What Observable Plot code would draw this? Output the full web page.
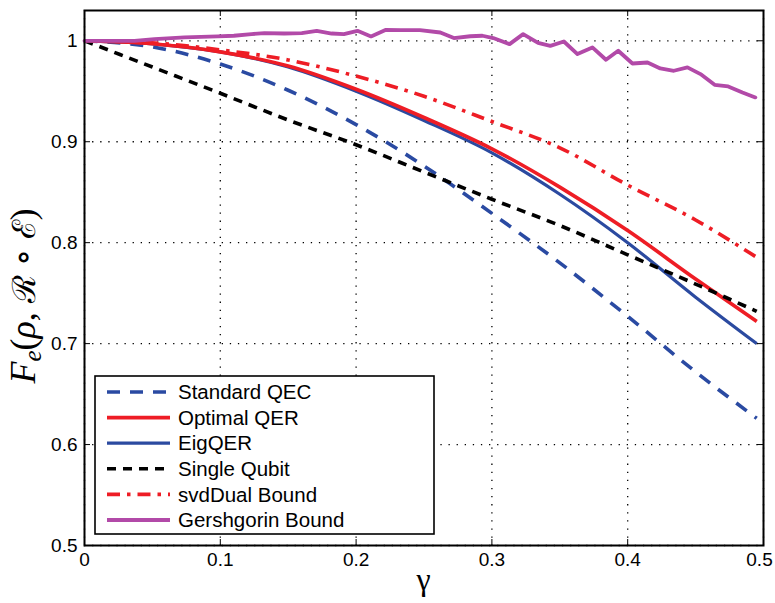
<!DOCTYPE html>
<html>
<head>
<meta charset="utf-8">
<script src="https://cdn.jsdelivr.net/npm/d3@7"></script>
<script src="https://cdn.jsdelivr.net/npm/@observablehq/plot@0.6"></script>
<style>
  html, body { margin: 0; padding: 0; background: white; }
  #chart svg { display: block; }
</style>
</head>
<body>
<div id="chart"></div>
<script>
// ---- data ----
const gamma = [0, 0.05, 0.1, 0.15, 0.2, 0.25, 0.3, 0.35, 0.4, 0.45, 0.495];
const standardQEC = [1.0, 0.994, 0.977, 0.951, 0.917, 0.876, 0.829, 0.780, 0.727, 0.672, 0.626];
const optimalQER  = [1.0, 0.997, 0.989, 0.975, 0.952, 0.924, 0.893, 0.855, 0.812, 0.764, 0.722];
const eigQER      = [1.0, 0.997, 0.989, 0.974, 0.950, 0.921, 0.889, 0.848, 0.800, 0.746, 0.700];
const singleQubit = [1.0, 0.974, 0.948, 0.9215, 0.897, 0.870, 0.843, 0.817, 0.788, 0.759, 0.732];
const svdDual     = [1.0, 0.998, 0.991, 0.981, 0.965, 0.945, 0.920, 0.894, 0.857, 0.8225, 0.7855];

const gershGamma = [0, 0.0368, 0.0515, 0.0736, 0.0979, 0.110, 0.123, 0.1325, 0.147, 0.160, 0.171, 0.182,
  0.191, 0.201, 0.211, 0.222, 0.233, 0.247, 0.262, 0.272, 0.284, 0.293, 0.301, 0.313, 0.323, 0.334,
  0.343, 0.353, 0.363, 0.374, 0.384, 0.393, 0.4035, 0.4146, 0.424, 0.434, 0.444, 0.4536, 0.464, 0.474,
  0.4845, 0.494];
const gershgorin = [1.0, 1.0, 1.0017, 1.0033, 1.0043, 1.005, 1.0066, 1.0076, 1.0072, 1.0076, 1.0099, 1.0072,
  1.0066, 1.0099, 1.0043, 1.0109, 1.0106, 1.0106, 1.0082, 1.0027, 1.0045, 1.005, 1.0027, 0.9967, 1.0066, 0.998,
  0.995, 0.9993, 0.9868, 0.9934, 0.9812, 0.9901, 0.9775, 0.9785, 0.9726, 0.9703, 0.9736, 0.967, 0.9564, 0.9548,
  0.9488, 0.9439];

const seriesNames = ["Standard QEC", "Optimal QER", "EigQER", "Single Qubit", "svdDual Bound", "Gershgorin Bound"];
const xTicks = [0, 0.1, 0.2, 0.3, 0.4, 0.5];
const xTickLabels = ["0", "0.1", "0.2", "0.3", "0.4", "0.5"];
const yTicks = [0.5, 0.6, 0.7, 0.8, 0.9, 1.0];
const yTickLabels = ["0.5", "0.6", "0.7", "0.8", "0.9", "1"];

// ---- styles ----
const styles = {
  "Standard QEC":     {stroke: "#2a4aa2", width: 3.6, dash: "13,10"},
  "Optimal QER":      {stroke: "#ee1d25", width: 3.6, dash: null},
  "EigQER":           {stroke: "#2b4aa0", width: 3.2, dash: null},
  "Single Qubit":     {stroke: "#000000", width: 3.6, dash: "9,7"},
  "svdDual Bound":    {stroke: "#ee1d25", width: 3.6, dash: "13,7,3.5,7"},
  "Gershgorin Bound": {stroke: "#b24aa8", width: 3.8, dash: null}
};

const smoothValues = {
  "Standard QEC": standardQEC, "Optimal QER": optimalQER, "EigQER": eigQER,
  "Single Qubit": singleQubit, "svdDual Bound": svdDual
};
const rows = [];
for (const name of Object.keys(smoothValues)) {
  smoothValues[name].forEach((v, i) => rows.push({series: name, g: gamma[i], v}));
}
const gRows = gershGamma.map((g, i) => ({series: "Gershgorin Bound", g, v: gershgorin[i]}));

const drawOrder = ["Standard QEC", "EigQER", "Optimal QER", "Single Qubit", "svdDual Bound"];
const lineMarks = drawOrder.map(name => Plot.line(rows.filter(r => r.series === name), {
  x: "g", y: "v", stroke: styles[name].stroke, strokeWidth: styles[name].width,
  strokeDasharray: styles[name].dash, curve: "monotone-x", strokeLinecap: "butt"
}));
lineMarks.push(Plot.line(gRows, {
  x: "g", y: "v", stroke: styles["Gershgorin Bound"].stroke,
  strokeWidth: styles["Gershgorin Bound"].width, strokeLinejoin: "round"
}));

const W = 775, H = 603, mL = 84, mR = 12, mT = 10, mB = 58;
const fw = W - mL - mR, fh = H - mT - mB;
const tickLen = 6;
const lastX = xTicks.slice(-1);

const chart = Plot.plot({
  width: W, height: H,
  marginLeft: mL, marginRight: mR, marginTop: mT, marginBottom: mB,
  x: {domain: [0, 0.5]},
  y: {domain: [0.5, 1.03]},
  style: {fontFamily: "'Liberation Sans', Arial, Helvetica, sans-serif", fontSize: "19px", color: "black", background: "white"},
  marks: [
    Plot.gridX(xTicks, {stroke: "black", strokeOpacity: 1, strokeWidth: 1.3, strokeDasharray: "1.3,6.8"}),
    Plot.gridY(yTicks, {stroke: "black", strokeOpacity: 1, strokeWidth: 1.3, strokeDasharray: "1.3,6.8"}),
    Plot.tickX(xTicks, {x: d => d, insetTop: fh - tickLen, stroke: "black", strokeWidth: 1}),
    Plot.tickX(xTicks, {x: d => d, insetBottom: fh - tickLen, stroke: "black", strokeWidth: 1}),
    Plot.tickY(yTicks, {y: d => d, insetRight: fw - tickLen, stroke: "black", strokeWidth: 1}),
    Plot.tickY(yTicks, {y: d => d, insetLeft: fw - tickLen, stroke: "black", strokeWidth: 1}),
    ...lineMarks,
    Plot.frame({stroke: "black", strokeWidth: 2}),
    Plot.axisX(xTicks.slice(0, -1), {tickSize: 0, tickPadding: 7, label: null, fontSize: 19,
      tickFormat: d => xTickLabels[xTicks.indexOf(d)]}),
    Plot.axisX(lastX, {tickSize: 0, tickPadding: 7, label: null, fontSize: 19, dx: -4,
      tickFormat: d => xTickLabels[xTicks.indexOf(d)]}),
    Plot.axisY(yTicks, {tickSize: 0, tickPadding: 7, label: null, fontSize: 19,
      tickFormat: d => yTickLabels[yTicks.indexOf(d)]})
  ]
});
document.getElementById("chart").appendChild(chart);

// ---- axis titles ----
const svg = d3.select(chart);
const serif = "'Liberation Serif', 'DejaVu Serif', 'Times New Roman', serif";
const yl = svg.append("text")
  .attr("transform", "translate(35,296) rotate(-90)")
  .attr("text-anchor", "middle")
  .attr("font-family", serif)
  .attr("font-size", 36)
  .attr("fill", "black");
yl.append("tspan").attr("font-style", "italic").text("F");
yl.append("tspan").attr("font-style", "italic").attr("font-size", 25).attr("dy", 6).text("e");
yl.append("tspan").attr("dy", -6).text("(");
yl.append("tspan").attr("font-style", "italic").text("ρ");
yl.append("tspan").text(", ");
yl.append("tspan").attr("font-family", "'DejaVu Serif', serif").attr("font-size", 32).text("ℛ");
yl.append("tspan").text(" ∘ ");
yl.append("tspan").attr("font-family", "'DejaVu Serif', serif").attr("font-size", 32).text("ℰ");
yl.append("tspan").text(")");

svg.append("text")
  .attr("x", mL + fw / 2)
  .attr("y", 590)
  .attr("text-anchor", "middle")
  .attr("font-family", serif)
  .attr("font-size", 32)
  .attr("fill", "black")
  .text("γ");

// ---- legend ----
const lg = svg.append("g").attr("text-anchor", "start");
lg.append("rect").attr("x", 95).attr("y", 376).attr("width", 339).attr("height", 158)
  .attr("fill", "white").attr("stroke", "black").attr("stroke-width", 1.6);
seriesNames.forEach((name, i) => {
  const y = 392 + i * 25.6;
  const s = styles[name];
  lg.append("line").attr("x1", 107).attr("x2", 170).attr("y1", y).attr("y2", y)
    .attr("stroke", s.stroke).attr("stroke-width", s.width)
    .attr("stroke-dasharray", s.dash);
  lg.append("text").attr("x", 178).attr("y", y + 7.2)
    .attr("text-anchor", "start")
    .attr("font-family", "'Liberation Sans', Arial, Helvetica, sans-serif")
    .attr("font-size", 20.5).attr("fill", "black").text(name);
});
</script>
</body>
</html>
